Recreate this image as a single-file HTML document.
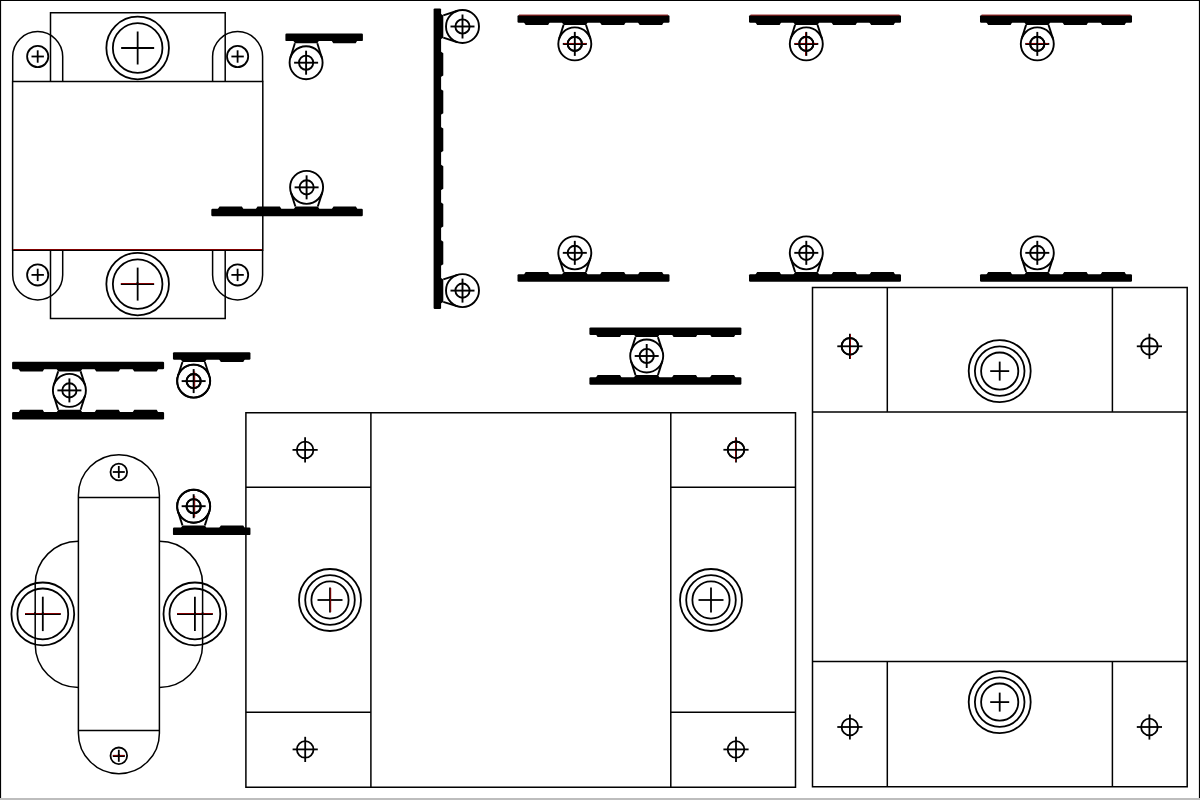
<!DOCTYPE html>
<html><head><meta charset="utf-8"><title>Drawing</title>
<style>
html,body{margin:0;padding:0;background:#fff;}
body{width:1200px;height:800px;overflow:hidden;font-family:"Liberation Sans",sans-serif;}
svg{display:block;}
</style></head><body>
<svg width="1200" height="800" viewBox="0 0 1200 800">
<rect width="1200" height="800" fill="#fff"/>
<line x1="0" y1="0.5" x2="1200" y2="0.5" stroke="#000" stroke-width="1.2"/>
<line x1="0.5" y1="0" x2="0.5" y2="798" stroke="#000" stroke-width="1.2"/>
<line x1="1199.5" y1="0" x2="1199.5" y2="798" stroke="#000" stroke-width="1.2"/>
<rect x="0" y="798" width="1200" height="2" fill="#bdbdbd"/>
<path d="M12.6,81.5 H262.8 V250.0 H12.6 Z" fill="none" stroke="#000" stroke-width="1.5"/>
<path d="M50.5,81.5 V12.7 H225.2 V81.5" fill="none" stroke="#000" stroke-width="1.5"/>
<path d="M50.5,250.0 V318.6 H225.2 V250.0" fill="none" stroke="#000" stroke-width="1.5"/>
<path d="M12.700000000000003,81.5 V56.6 A25,25 0 0 1 62.7,56.6 V81.5" fill="none" stroke="#000" stroke-width="1.5"/>
<path d="M12.700000000000003,250.0 V274.9 A25,25 0 0 0 62.7,274.9 V250.0" fill="none" stroke="#000" stroke-width="1.5"/>
<circle cx="37.7" cy="56.5" r="10.6" fill="none" stroke="#000" stroke-width="1.8"/>
<line x1="31.5" y1="56.5" x2="43.9" y2="56.5" stroke="#000" stroke-width="1.8"/>
<line x1="37.7" y1="50.3" x2="37.7" y2="62.7" stroke="#000" stroke-width="1.8"/>
<circle cx="37.7" cy="274.9" r="10.6" fill="none" stroke="#000" stroke-width="1.8"/>
<line x1="31.5" y1="274.9" x2="43.9" y2="274.9" stroke="#000" stroke-width="1.8"/>
<line x1="37.7" y1="268.7" x2="37.7" y2="281.1" stroke="#000" stroke-width="1.8"/>
<path d="M212.6,81.5 V56.6 A25,25 0 0 1 262.6,56.6 V81.5" fill="none" stroke="#000" stroke-width="1.5"/>
<path d="M212.6,250.0 V274.9 A25,25 0 0 0 262.6,274.9 V250.0" fill="none" stroke="#000" stroke-width="1.5"/>
<circle cx="237.6" cy="56.5" r="10.6" fill="none" stroke="#000" stroke-width="1.8"/>
<line x1="231.4" y1="56.5" x2="243.8" y2="56.5" stroke="#000" stroke-width="1.8"/>
<line x1="237.6" y1="50.3" x2="237.6" y2="62.7" stroke="#000" stroke-width="1.8"/>
<circle cx="237.6" cy="274.9" r="10.6" fill="none" stroke="#000" stroke-width="1.8"/>
<line x1="231.4" y1="274.9" x2="243.8" y2="274.9" stroke="#000" stroke-width="1.8"/>
<line x1="237.6" y1="268.7" x2="237.6" y2="281.1" stroke="#000" stroke-width="1.8"/>
<circle cx="137.65" cy="48" r="31.3" fill="none" stroke="#000" stroke-width="1.8"/>
<circle cx="137.65" cy="48" r="24.8" fill="none" stroke="#000" stroke-width="1.8"/>
<line x1="121.15" y1="48" x2="154.15" y2="48" stroke="#000" stroke-width="1.8"/>
<line x1="137.65" y1="31.5" x2="137.65" y2="64.5" stroke="#000" stroke-width="1.8"/>
<circle cx="137.65" cy="284.1" r="31.3" fill="none" stroke="#000" stroke-width="1.8"/>
<circle cx="137.65" cy="284.1" r="24.8" fill="none" stroke="#000" stroke-width="1.8"/>
<line x1="121.15" y1="284.1" x2="154.15" y2="284.1" stroke="#000" stroke-width="1.8"/>
<line x1="137.65" y1="267.6" x2="137.65" y2="300.6" stroke="#000" stroke-width="1.8"/>
<g transform="matrix(1,0,0,1,285.4,41.1)"><rect x="0" y="-7.5" width="77.5" height="7.5" rx="1.2" fill="#000"/><path d="M7.9,-2 L7.9,-0.3 L9.6,2.2 L32,2.2 L33.5,-0.3 L33.5,-2 Z" fill="#000"/><path d="M46.2,-2 L46.2,-0.3 L47.9,2.2 L70.3,2.2 L71.8,-0.3 L71.8,-2 Z" fill="#000"/><line x1="9.5" y1="2.2" x2="4.96" y2="16.65" stroke="#000" stroke-width="1.9"/><line x1="31.9" y1="2.2" x2="36.44" y2="16.65" stroke="#000" stroke-width="1.9"/><circle cx="20.7" cy="21.6" r="16.5" fill="none" stroke="#000" stroke-width="1.9"/><circle cx="20.7" cy="21.6" r="7.1" fill="none" stroke="#000" stroke-width="1.9"/><line x1="8.7" y1="21.6" x2="32.7" y2="21.6" stroke="#000" stroke-width="1.9"/><line x1="20.7" y1="9.6" x2="20.7" y2="33.6" stroke="#000" stroke-width="1.9"/></g>
<g transform="matrix(1,0,0,-1,211.3,208.75)"><rect x="0" y="-7.5" width="151.5" height="7.5" rx="1.2" fill="#000"/><path d="M6.5,-2 L6.5,-0.3 L8.2,2.2 L30.6,2.2 L32.1,-0.3 L32.1,-2 Z" fill="#000"/><path d="M44.5,-2 L44.5,-0.3 L46.2,2.2 L68.6,2.2 L70.1,-0.3 L70.1,-2 Z" fill="#000"/><path d="M82.5,-2 L82.5,-0.3 L84.2,2.2 L106.6,2.2 L108.1,-0.3 L108.1,-2 Z" fill="#000"/><path d="M120.5,-2 L120.5,-0.3 L122.2,2.2 L144.6,2.2 L146.1,-0.3 L146.1,-2 Z" fill="#000"/><line x1="84.1" y1="2.2" x2="79.58" y2="16.39" stroke="#000" stroke-width="1.9"/><line x1="106.5" y1="2.2" x2="111.02" y2="16.39" stroke="#000" stroke-width="1.9"/><circle cx="95.3" cy="21.4" r="16.5" fill="none" stroke="#000" stroke-width="1.9"/><circle cx="95.3" cy="21.4" r="7.1" fill="none" stroke="#000" stroke-width="1.9"/><line x1="83.3" y1="21.4" x2="107.3" y2="21.4" stroke="#000" stroke-width="1.9"/><line x1="95.3" y1="9.4" x2="95.3" y2="33.4" stroke="#000" stroke-width="1.9"/></g>
<g transform="matrix(0,1,1,0,441.1,8.4)"><rect x="0" y="-7.5" width="300.5" height="7.5" rx="1.2" fill="#000"/><path d="M5.3,-2 L5.3,-0.3 L7,2.2 L29.4,2.2 L30.9,-0.3 L30.9,-2 Z" fill="#000"/><path d="M43.03,-2 L43.03,-0.3 L44.73,2.2 L67.13,2.2 L68.63,-0.3 L68.63,-2 Z" fill="#000"/><path d="M80.76,-2 L80.76,-0.3 L82.46,2.2 L104.86,2.2 L106.36,-0.3 L106.36,-2 Z" fill="#000"/><path d="M118.49,-2 L118.49,-0.3 L120.19,2.2 L142.59,2.2 L144.09,-0.3 L144.09,-2 Z" fill="#000"/><path d="M156.22,-2 L156.22,-0.3 L157.92,2.2 L180.32,2.2 L181.82,-0.3 L181.82,-2 Z" fill="#000"/><path d="M193.95,-2 L193.95,-0.3 L195.65,2.2 L218.05,2.2 L219.55,-0.3 L219.55,-2 Z" fill="#000"/><path d="M231.68,-2 L231.68,-0.3 L233.38,2.2 L255.78,2.2 L257.28,-0.3 L257.28,-2 Z" fill="#000"/><path d="M269.41,-2 L269.41,-0.3 L271.11,2.2 L293.51,2.2 L295.01,-0.3 L295.01,-2 Z" fill="#000"/><line x1="6.9" y1="2.2" x2="2.38" y2="16.39" stroke="#000" stroke-width="1.9"/><line x1="29.3" y1="2.2" x2="33.82" y2="16.39" stroke="#000" stroke-width="1.9"/><circle cx="18.1" cy="21.4" r="16.5" fill="none" stroke="#000" stroke-width="1.9"/><circle cx="18.1" cy="21.4" r="7.1" fill="none" stroke="#000" stroke-width="1.9"/><line x1="6.1" y1="21.4" x2="30.1" y2="21.4" stroke="#000" stroke-width="1.9"/><line x1="18.1" y1="9.4" x2="18.1" y2="33.4" stroke="#000" stroke-width="1.9"/><line x1="271.01" y1="2.2" x2="266.49" y2="16.39" stroke="#000" stroke-width="1.9"/><line x1="293.41" y1="2.2" x2="297.93" y2="16.39" stroke="#000" stroke-width="1.9"/><circle cx="282.21" cy="21.4" r="16.5" fill="none" stroke="#000" stroke-width="1.9"/><circle cx="282.21" cy="21.4" r="7.1" fill="none" stroke="#000" stroke-width="1.9"/><line x1="270.21" y1="21.4" x2="294.21" y2="21.4" stroke="#000" stroke-width="1.9"/><line x1="282.21" y1="9.4" x2="282.21" y2="33.4" stroke="#000" stroke-width="1.9"/></g>
<g transform="matrix(1,0,0,1,517.5,22.7)"><rect x="0" y="-7.5" width="152" height="7.5" rx="1.2" fill="#000"/><path d="M6.5,-2 L6.5,-0.3 L8.2,2.2 L30.6,2.2 L32.1,-0.3 L32.1,-2 Z" fill="#000"/><path d="M44.5,-2 L44.5,-0.3 L46.2,2.2 L68.6,2.2 L70.1,-0.3 L70.1,-2 Z" fill="#000"/><path d="M82.5,-2 L82.5,-0.3 L84.2,2.2 L106.6,2.2 L108.1,-0.3 L108.1,-2 Z" fill="#000"/><path d="M120.5,-2 L120.5,-0.3 L122.2,2.2 L144.6,2.2 L146.1,-0.3 L146.1,-2 Z" fill="#000"/><line x1="46.1" y1="2.2" x2="41.6" y2="16.13" stroke="#000" stroke-width="1.9"/><line x1="68.5" y1="2.2" x2="73" y2="16.13" stroke="#000" stroke-width="1.9"/><circle cx="57.3" cy="21.2" r="16.5" fill="none" stroke="#000" stroke-width="1.9"/><circle cx="57.3" cy="21.2" r="7.1" fill="none" stroke="#000" stroke-width="1.9"/><line x1="45.3" y1="21.2" x2="69.3" y2="21.2" stroke="#000" stroke-width="1.9"/><line x1="57.3" y1="9.2" x2="57.3" y2="33.2" stroke="#000" stroke-width="1.9"/></g>
<g transform="matrix(1,0,0,-1,517.5,274.25)"><rect x="0" y="-7.5" width="152" height="7.5" rx="1.2" fill="#000"/><path d="M6.5,-2 L6.5,-0.3 L8.2,2.2 L30.6,2.2 L32.1,-0.3 L32.1,-2 Z" fill="#000"/><path d="M44.5,-2 L44.5,-0.3 L46.2,2.2 L68.6,2.2 L70.1,-0.3 L70.1,-2 Z" fill="#000"/><path d="M82.5,-2 L82.5,-0.3 L84.2,2.2 L106.6,2.2 L108.1,-0.3 L108.1,-2 Z" fill="#000"/><path d="M120.5,-2 L120.5,-0.3 L122.2,2.2 L144.6,2.2 L146.1,-0.3 L146.1,-2 Z" fill="#000"/><line x1="46.1" y1="2.2" x2="41.58" y2="16.39" stroke="#000" stroke-width="1.9"/><line x1="68.5" y1="2.2" x2="73.02" y2="16.39" stroke="#000" stroke-width="1.9"/><circle cx="57.3" cy="21.4" r="16.5" fill="none" stroke="#000" stroke-width="1.9"/><circle cx="57.3" cy="21.4" r="7.1" fill="none" stroke="#000" stroke-width="1.9"/><line x1="45.3" y1="21.4" x2="69.3" y2="21.4" stroke="#000" stroke-width="1.9"/><line x1="57.3" y1="9.4" x2="57.3" y2="33.4" stroke="#000" stroke-width="1.9"/></g>
<g transform="matrix(1,0,0,1,749,22.7)"><rect x="0" y="-7.5" width="152" height="7.5" rx="1.2" fill="#000"/><path d="M6.5,-2 L6.5,-0.3 L8.2,2.2 L30.6,2.2 L32.1,-0.3 L32.1,-2 Z" fill="#000"/><path d="M44.5,-2 L44.5,-0.3 L46.2,2.2 L68.6,2.2 L70.1,-0.3 L70.1,-2 Z" fill="#000"/><path d="M82.5,-2 L82.5,-0.3 L84.2,2.2 L106.6,2.2 L108.1,-0.3 L108.1,-2 Z" fill="#000"/><path d="M120.5,-2 L120.5,-0.3 L122.2,2.2 L144.6,2.2 L146.1,-0.3 L146.1,-2 Z" fill="#000"/><line x1="46.1" y1="2.2" x2="41.6" y2="16.13" stroke="#000" stroke-width="1.9"/><line x1="68.5" y1="2.2" x2="73" y2="16.13" stroke="#000" stroke-width="1.9"/><circle cx="57.3" cy="21.2" r="16.5" fill="none" stroke="#000" stroke-width="1.9"/><circle cx="57.3" cy="21.2" r="7.1" fill="none" stroke="#000" stroke-width="1.9"/><line x1="45.3" y1="21.2" x2="69.3" y2="21.2" stroke="#000" stroke-width="1.9"/><line x1="57.3" y1="9.2" x2="57.3" y2="33.2" stroke="#000" stroke-width="1.9"/></g>
<g transform="matrix(1,0,0,-1,749,274.25)"><rect x="0" y="-7.5" width="152" height="7.5" rx="1.2" fill="#000"/><path d="M6.5,-2 L6.5,-0.3 L8.2,2.2 L30.6,2.2 L32.1,-0.3 L32.1,-2 Z" fill="#000"/><path d="M44.5,-2 L44.5,-0.3 L46.2,2.2 L68.6,2.2 L70.1,-0.3 L70.1,-2 Z" fill="#000"/><path d="M82.5,-2 L82.5,-0.3 L84.2,2.2 L106.6,2.2 L108.1,-0.3 L108.1,-2 Z" fill="#000"/><path d="M120.5,-2 L120.5,-0.3 L122.2,2.2 L144.6,2.2 L146.1,-0.3 L146.1,-2 Z" fill="#000"/><line x1="46.1" y1="2.2" x2="41.58" y2="16.39" stroke="#000" stroke-width="1.9"/><line x1="68.5" y1="2.2" x2="73.02" y2="16.39" stroke="#000" stroke-width="1.9"/><circle cx="57.3" cy="21.4" r="16.5" fill="none" stroke="#000" stroke-width="1.9"/><circle cx="57.3" cy="21.4" r="7.1" fill="none" stroke="#000" stroke-width="1.9"/><line x1="45.3" y1="21.4" x2="69.3" y2="21.4" stroke="#000" stroke-width="1.9"/><line x1="57.3" y1="9.4" x2="57.3" y2="33.4" stroke="#000" stroke-width="1.9"/></g>
<g transform="matrix(1,0,0,1,980,22.7)"><rect x="0" y="-7.5" width="152" height="7.5" rx="1.2" fill="#000"/><path d="M6.5,-2 L6.5,-0.3 L8.2,2.2 L30.6,2.2 L32.1,-0.3 L32.1,-2 Z" fill="#000"/><path d="M44.5,-2 L44.5,-0.3 L46.2,2.2 L68.6,2.2 L70.1,-0.3 L70.1,-2 Z" fill="#000"/><path d="M82.5,-2 L82.5,-0.3 L84.2,2.2 L106.6,2.2 L108.1,-0.3 L108.1,-2 Z" fill="#000"/><path d="M120.5,-2 L120.5,-0.3 L122.2,2.2 L144.6,2.2 L146.1,-0.3 L146.1,-2 Z" fill="#000"/><line x1="46.1" y1="2.2" x2="41.6" y2="16.13" stroke="#000" stroke-width="1.9"/><line x1="68.5" y1="2.2" x2="73" y2="16.13" stroke="#000" stroke-width="1.9"/><circle cx="57.3" cy="21.2" r="16.5" fill="none" stroke="#000" stroke-width="1.9"/><circle cx="57.3" cy="21.2" r="7.1" fill="none" stroke="#000" stroke-width="1.9"/><line x1="45.3" y1="21.2" x2="69.3" y2="21.2" stroke="#000" stroke-width="1.9"/><line x1="57.3" y1="9.2" x2="57.3" y2="33.2" stroke="#000" stroke-width="1.9"/></g>
<g transform="matrix(1,0,0,-1,980,274.25)"><rect x="0" y="-7.5" width="152" height="7.5" rx="1.2" fill="#000"/><path d="M6.5,-2 L6.5,-0.3 L8.2,2.2 L30.6,2.2 L32.1,-0.3 L32.1,-2 Z" fill="#000"/><path d="M44.5,-2 L44.5,-0.3 L46.2,2.2 L68.6,2.2 L70.1,-0.3 L70.1,-2 Z" fill="#000"/><path d="M82.5,-2 L82.5,-0.3 L84.2,2.2 L106.6,2.2 L108.1,-0.3 L108.1,-2 Z" fill="#000"/><path d="M120.5,-2 L120.5,-0.3 L122.2,2.2 L144.6,2.2 L146.1,-0.3 L146.1,-2 Z" fill="#000"/><line x1="46.1" y1="2.2" x2="41.58" y2="16.39" stroke="#000" stroke-width="1.9"/><line x1="68.5" y1="2.2" x2="73.02" y2="16.39" stroke="#000" stroke-width="1.9"/><circle cx="57.3" cy="21.4" r="16.5" fill="none" stroke="#000" stroke-width="1.9"/><circle cx="57.3" cy="21.4" r="7.1" fill="none" stroke="#000" stroke-width="1.9"/><line x1="45.3" y1="21.4" x2="69.3" y2="21.4" stroke="#000" stroke-width="1.9"/><line x1="57.3" y1="9.4" x2="57.3" y2="33.4" stroke="#000" stroke-width="1.9"/></g>
<g transform="matrix(1,0,0,1,589.4,334.9)"><rect x="0" y="-7.5" width="152" height="7.5" rx="1.2" fill="#000"/><path d="M6.5,-2 L6.5,-0.3 L8.2,2.2 L30.6,2.2 L32.1,-0.3 L32.1,-2 Z" fill="#000"/><path d="M44.5,-2 L44.5,-0.3 L46.2,2.2 L68.6,2.2 L70.1,-0.3 L70.1,-2 Z" fill="#000"/><path d="M82.5,-2 L82.5,-0.3 L84.2,2.2 L106.6,2.2 L108.1,-0.3 L108.1,-2 Z" fill="#000"/><path d="M120.5,-2 L120.5,-0.3 L122.2,2.2 L144.6,2.2 L146.1,-0.3 L146.1,-2 Z" fill="#000"/><line x1="46.1" y1="2.2" x2="41.61" y2="15.99" stroke="#000" stroke-width="1.9"/><line x1="68.5" y1="2.2" x2="72.99" y2="15.99" stroke="#000" stroke-width="1.9"/><circle cx="57.3" cy="21.1" r="16.5" fill="none" stroke="#000" stroke-width="1.9"/><circle cx="57.3" cy="21.1" r="7.1" fill="none" stroke="#000" stroke-width="1.9"/><line x1="45.3" y1="21.1" x2="69.3" y2="21.1" stroke="#000" stroke-width="1.9"/><line x1="57.3" y1="9.1" x2="57.3" y2="33.1" stroke="#000" stroke-width="1.9"/></g>
<g transform="matrix(1,0,0,-1,589.4,377.3)"><rect x="0" y="-7.5" width="152" height="7.5" rx="1.2" fill="#000"/><path d="M6.5,-2 L6.5,-0.3 L8.2,2.2 L30.6,2.2 L32.1,-0.3 L32.1,-2 Z" fill="#000"/><path d="M44.5,-2 L44.5,-0.3 L46.2,2.2 L68.6,2.2 L70.1,-0.3 L70.1,-2 Z" fill="#000"/><path d="M82.5,-2 L82.5,-0.3 L84.2,2.2 L106.6,2.2 L108.1,-0.3 L108.1,-2 Z" fill="#000"/><path d="M120.5,-2 L120.5,-0.3 L122.2,2.2 L144.6,2.2 L146.1,-0.3 L146.1,-2 Z" fill="#000"/><line x1="46.1" y1="2.2" x2="41.59" y2="16.26" stroke="#000" stroke-width="1.9"/><line x1="68.5" y1="2.2" x2="73.01" y2="16.26" stroke="#000" stroke-width="1.9"/></g>
<g transform="matrix(1,0,0,1,12.1,369.2)"><rect x="0" y="-7.5" width="152" height="7.5" rx="1.2" fill="#000"/><path d="M6.5,-2 L6.5,-0.3 L8.2,2.2 L30.6,2.2 L32.1,-0.3 L32.1,-2 Z" fill="#000"/><path d="M44.5,-2 L44.5,-0.3 L46.2,2.2 L68.6,2.2 L70.1,-0.3 L70.1,-2 Z" fill="#000"/><path d="M82.5,-2 L82.5,-0.3 L84.2,2.2 L106.6,2.2 L108.1,-0.3 L108.1,-2 Z" fill="#000"/><path d="M120.5,-2 L120.5,-0.3 L122.2,2.2 L144.6,2.2 L146.1,-0.3 L146.1,-2 Z" fill="#000"/><line x1="46.1" y1="2.2" x2="41.6" y2="16.13" stroke="#000" stroke-width="1.9"/><line x1="68.5" y1="2.2" x2="73" y2="16.13" stroke="#000" stroke-width="1.9"/><circle cx="57.3" cy="21.2" r="16.5" fill="none" stroke="#000" stroke-width="1.9"/><circle cx="57.3" cy="21.2" r="7.1" fill="none" stroke="#000" stroke-width="1.9"/><line x1="45.3" y1="21.2" x2="69.3" y2="21.2" stroke="#000" stroke-width="1.9"/><line x1="57.3" y1="9.2" x2="57.3" y2="33.2" stroke="#000" stroke-width="1.9"/></g>
<g transform="matrix(1,0,0,-1,12.1,411.9)"><rect x="0" y="-7.5" width="152" height="7.5" rx="1.2" fill="#000"/><path d="M6.5,-2 L6.5,-0.3 L8.2,2.2 L30.6,2.2 L32.1,-0.3 L32.1,-2 Z" fill="#000"/><path d="M44.5,-2 L44.5,-0.3 L46.2,2.2 L68.6,2.2 L70.1,-0.3 L70.1,-2 Z" fill="#000"/><path d="M82.5,-2 L82.5,-0.3 L84.2,2.2 L106.6,2.2 L108.1,-0.3 L108.1,-2 Z" fill="#000"/><path d="M120.5,-2 L120.5,-0.3 L122.2,2.2 L144.6,2.2 L146.1,-0.3 L146.1,-2 Z" fill="#000"/><line x1="46.1" y1="2.2" x2="41.57" y2="16.52" stroke="#000" stroke-width="1.9"/><line x1="68.5" y1="2.2" x2="73.03" y2="16.52" stroke="#000" stroke-width="1.9"/></g>
<g transform="matrix(1,0,0,1,172.95,359.8)"><rect x="0" y="-7.5" width="77.5" height="7.5" rx="1.2" fill="#000"/><path d="M7.9,-2 L7.9,-0.3 L9.6,2.2 L32,2.2 L33.5,-0.3 L33.5,-2 Z" fill="#000"/><path d="M46.2,-2 L46.2,-0.3 L47.9,2.2 L70.3,2.2 L71.8,-0.3 L71.8,-2 Z" fill="#000"/><line x1="9.5" y1="2.2" x2="4.99" y2="16.26" stroke="#000" stroke-width="1.9"/><line x1="31.9" y1="2.2" x2="36.41" y2="16.26" stroke="#000" stroke-width="1.9"/><circle cx="20.7" cy="21.3" r="16.5" fill="none" stroke="#000" stroke-width="1.9"/><circle cx="20.7" cy="21.3" r="7.1" fill="none" stroke="#000" stroke-width="1.9"/><line x1="8.7" y1="21.3" x2="32.7" y2="21.3" stroke="#000" stroke-width="1.9"/><line x1="20.7" y1="9.3" x2="20.7" y2="33.3" stroke="#000" stroke-width="1.9"/></g>
<g transform="matrix(1,0,0,-1,172.95,527.6)"><rect x="0" y="-7.5" width="77.5" height="7.5" rx="1.2" fill="#000"/><path d="M7.9,-2 L7.9,-0.3 L9.6,2.2 L32,2.2 L33.5,-0.3 L33.5,-2 Z" fill="#000"/><path d="M46.2,-2 L46.2,-0.3 L47.9,2.2 L70.3,2.2 L71.8,-0.3 L71.8,-2 Z" fill="#000"/><line x1="9.5" y1="2.2" x2="4.98" y2="16.39" stroke="#000" stroke-width="1.9"/><line x1="31.9" y1="2.2" x2="36.42" y2="16.39" stroke="#000" stroke-width="1.9"/><circle cx="20.7" cy="21.4" r="16.5" fill="none" stroke="#000" stroke-width="1.9"/><circle cx="20.7" cy="21.4" r="7.1" fill="none" stroke="#000" stroke-width="1.9"/><line x1="8.7" y1="21.4" x2="32.7" y2="21.4" stroke="#000" stroke-width="1.9"/><line x1="20.7" y1="9.4" x2="20.7" y2="33.4" stroke="#000" stroke-width="1.9"/></g>
<path d="M78.4,541.2 A43.2,43.2 0 0 0 35.2,584.4 V644.2 A43.2,43.2 0 0 0 78.4,687.4" fill="none" stroke="#000" stroke-width="1.5"/>
<path d="M159.4,541.2 A43.2,43.2 0 0 1 202.6,584.4 V644.2 A43.2,43.2 0 0 1 159.4,687.4" fill="none" stroke="#000" stroke-width="1.5"/>
<circle cx="42.8" cy="613.9" r="31.4" fill="none" stroke="#000" stroke-width="1.8"/>
<circle cx="42.8" cy="613.9" r="25.4" fill="none" stroke="#000" stroke-width="1.8"/>
<line x1="25" y1="613.9" x2="60.6" y2="613.9" stroke="#000" stroke-width="1.8"/>
<line x1="42.8" y1="596.7" x2="42.8" y2="631.1" stroke="#000" stroke-width="1.8"/>
<circle cx="194.9" cy="613.9" r="31.4" fill="none" stroke="#000" stroke-width="1.8"/>
<circle cx="194.9" cy="613.9" r="25.4" fill="none" stroke="#000" stroke-width="1.8"/>
<line x1="177.1" y1="613.9" x2="212.7" y2="613.9" stroke="#000" stroke-width="1.8"/>
<line x1="194.9" y1="596.7" x2="194.9" y2="631.1" stroke="#000" stroke-width="1.8"/>
<path d="M78.4,495.2 A40.5,40.5 0 0 1 159.4,495.2 V733.2 A40.5,40.5 0 0 1 78.4,733.2 Z" fill="none" stroke="#000" stroke-width="1.5"/>
<line x1="78.4" y1="497.5" x2="159.4" y2="497.5" stroke="#000" stroke-width="1.5"/>
<line x1="78.4" y1="730.4" x2="159.4" y2="730.4" stroke="#000" stroke-width="1.5"/>
<circle cx="118.8" cy="472" r="8.3" fill="none" stroke="#000" stroke-width="1.8"/>
<line x1="112.8" y1="472" x2="124.8" y2="472" stroke="#000" stroke-width="1.8"/>
<line x1="118.8" y1="466" x2="118.8" y2="478" stroke="#000" stroke-width="1.8"/>
<circle cx="118.8" cy="755.8" r="8.3" fill="none" stroke="#000" stroke-width="1.8"/>
<line x1="112.8" y1="755.8" x2="124.8" y2="755.8" stroke="#000" stroke-width="1.8"/>
<line x1="118.8" y1="749.8" x2="118.8" y2="761.8" stroke="#000" stroke-width="1.8"/>
<path d="M245.9,412.65 H795.5 V787.25 H245.9 Z" fill="none" stroke="#000" stroke-width="1.5"/>
<line x1="370.9" y1="412.65" x2="370.9" y2="787.25" stroke="#000" stroke-width="1.5"/>
<line x1="670.8" y1="412.65" x2="670.8" y2="787.25" stroke="#000" stroke-width="1.5"/>
<line x1="245.9" y1="487.35" x2="370.9" y2="487.35" stroke="#000" stroke-width="1.5"/>
<line x1="670.8" y1="487.35" x2="795.5" y2="487.35" stroke="#000" stroke-width="1.5"/>
<line x1="245.9" y1="712.3" x2="370.9" y2="712.3" stroke="#000" stroke-width="1.5"/>
<line x1="670.8" y1="712.3" x2="795.5" y2="712.3" stroke="#000" stroke-width="1.5"/>
<circle cx="305.1" cy="449.9" r="8.3" fill="none" stroke="#000" stroke-width="1.8"/>
<line x1="292.5" y1="449.9" x2="317.7" y2="449.9" stroke="#000" stroke-width="1.8"/>
<line x1="305.1" y1="437.3" x2="305.1" y2="462.5" stroke="#000" stroke-width="1.8"/>
<circle cx="305.2" cy="749.4" r="8.3" fill="none" stroke="#000" stroke-width="1.8"/>
<line x1="292.6" y1="749.4" x2="317.8" y2="749.4" stroke="#000" stroke-width="1.8"/>
<line x1="305.2" y1="736.8" x2="305.2" y2="762" stroke="#000" stroke-width="1.8"/>
<circle cx="736" cy="449.8" r="8.3" fill="none" stroke="#000" stroke-width="1.8"/>
<line x1="723.4" y1="449.8" x2="748.6" y2="449.8" stroke="#000" stroke-width="1.8"/>
<line x1="736" y1="437.2" x2="736" y2="462.4" stroke="#000" stroke-width="1.8"/>
<circle cx="736" cy="749.4" r="8.3" fill="none" stroke="#000" stroke-width="1.8"/>
<line x1="723.4" y1="749.4" x2="748.6" y2="749.4" stroke="#000" stroke-width="1.8"/>
<line x1="736" y1="736.8" x2="736" y2="762" stroke="#000" stroke-width="1.8"/>
<circle cx="330" cy="600" r="31" fill="none" stroke="#000" stroke-width="1.8"/>
<circle cx="330" cy="600" r="24.8" fill="none" stroke="#000" stroke-width="1.8"/>
<circle cx="330" cy="600" r="18.6" fill="none" stroke="#000" stroke-width="1.8"/>
<line x1="317.5" y1="600" x2="342.5" y2="600" stroke="#000" stroke-width="1.8"/>
<line x1="330" y1="587.5" x2="330" y2="612.5" stroke="#000" stroke-width="1.8"/>
<circle cx="711" cy="600" r="31" fill="none" stroke="#000" stroke-width="1.8"/>
<circle cx="711" cy="600" r="24.8" fill="none" stroke="#000" stroke-width="1.8"/>
<circle cx="711" cy="600" r="18.6" fill="none" stroke="#000" stroke-width="1.8"/>
<line x1="698.5" y1="600" x2="723.5" y2="600" stroke="#000" stroke-width="1.8"/>
<line x1="711" y1="587.5" x2="711" y2="612.5" stroke="#000" stroke-width="1.8"/>
<path d="M812.5,287.4 H1187.2 V786.7 H812.5 Z" fill="none" stroke="#000" stroke-width="1.5"/>
<line x1="887.3" y1="287.4" x2="887.3" y2="411.9" stroke="#000" stroke-width="1.5"/>
<line x1="1112.4" y1="287.4" x2="1112.4" y2="411.9" stroke="#000" stroke-width="1.5"/>
<line x1="812.5" y1="411.9" x2="1187.2" y2="411.9" stroke="#000" stroke-width="1.5"/>
<line x1="812.5" y1="661.55" x2="1187.2" y2="661.55" stroke="#000" stroke-width="1.5"/>
<line x1="887.3" y1="661.55" x2="887.3" y2="786.7" stroke="#000" stroke-width="1.5"/>
<line x1="1112.4" y1="661.55" x2="1112.4" y2="786.7" stroke="#000" stroke-width="1.5"/>
<circle cx="849.9" cy="346.3" r="8.3" fill="none" stroke="#000" stroke-width="1.8"/>
<line x1="837.3" y1="346.3" x2="862.5" y2="346.3" stroke="#000" stroke-width="1.8"/>
<line x1="849.9" y1="333.7" x2="849.9" y2="358.9" stroke="#000" stroke-width="1.8"/>
<circle cx="1149.4" cy="346.3" r="8.3" fill="none" stroke="#000" stroke-width="1.8"/>
<line x1="1136.8" y1="346.3" x2="1162" y2="346.3" stroke="#000" stroke-width="1.8"/>
<line x1="1149.4" y1="333.7" x2="1149.4" y2="358.9" stroke="#000" stroke-width="1.8"/>
<circle cx="849.9" cy="727" r="8.3" fill="none" stroke="#000" stroke-width="1.8"/>
<line x1="837.3" y1="727" x2="862.5" y2="727" stroke="#000" stroke-width="1.8"/>
<line x1="849.9" y1="714.4" x2="849.9" y2="739.6" stroke="#000" stroke-width="1.8"/>
<circle cx="1149.4" cy="727" r="8.3" fill="none" stroke="#000" stroke-width="1.8"/>
<line x1="1136.8" y1="727" x2="1162" y2="727" stroke="#000" stroke-width="1.8"/>
<line x1="1149.4" y1="714.4" x2="1149.4" y2="739.6" stroke="#000" stroke-width="1.8"/>
<circle cx="999.7" cy="371.1" r="31" fill="none" stroke="#000" stroke-width="1.8"/>
<circle cx="999.7" cy="371.1" r="24.8" fill="none" stroke="#000" stroke-width="1.8"/>
<circle cx="999.7" cy="371.1" r="18.6" fill="none" stroke="#000" stroke-width="1.8"/>
<line x1="990.2" y1="371.1" x2="1009.2" y2="371.1" stroke="#000" stroke-width="1.8"/>
<line x1="999.7" y1="361.6" x2="999.7" y2="380.6" stroke="#000" stroke-width="1.8"/>
<circle cx="999.7" cy="702.1" r="31" fill="none" stroke="#000" stroke-width="1.8"/>
<circle cx="999.7" cy="702.1" r="24.8" fill="none" stroke="#000" stroke-width="1.8"/>
<circle cx="999.7" cy="702.1" r="18.6" fill="none" stroke="#000" stroke-width="1.8"/>
<line x1="990.2" y1="702.1" x2="1009.2" y2="702.1" stroke="#000" stroke-width="1.8"/>
<line x1="999.7" y1="692.6" x2="999.7" y2="711.6" stroke="#000" stroke-width="1.8"/>
<rect x="13.4" y="249" width="248.6" height="1" fill="#800000"/>
<rect x="12.6" y="250" width="250.2" height="1" fill="#000"/>
<rect x="120.8" y="283" width="33.1" height="1" fill="#800000"/>
<rect x="120.8" y="284" width="33.1" height="1" fill="#000"/>
<rect x="136.6" y="282" width="1.8" height="3" fill="#000"/>
<rect x="25" y="613" width="35.6" height="1" fill="#800000"/>
<rect x="25" y="614" width="35.6" height="1" fill="#000"/>
<rect x="41.9" y="612" width="1.8" height="3" fill="#000"/>
<rect x="177.1" y="613" width="35.6" height="1" fill="#800000"/>
<rect x="177.1" y="614" width="35.6" height="1" fill="#000"/>
<rect x="194" y="612" width="1.8" height="3" fill="#000"/>
<rect x="34.3" y="612" width="1.6" height="3" fill="#000"/>
<rect x="201.8" y="612" width="1.6" height="3" fill="#000"/>
<rect x="112.9" y="755" width="11.7" height="1" fill="#800000"/>
<rect x="112.9" y="756" width="11.7" height="1" fill="#000"/>
<rect x="117.9" y="754" width="1.8" height="3" fill="#000"/>
<rect x="519" y="14.6" width="149" height="1" fill="#800000"/>
<rect x="750.5" y="14.6" width="149" height="1" fill="#800000"/>
<rect x="981.5" y="14.6" width="149" height="1" fill="#800000"/>
<rect x="850" y="334.5" width="1" height="24" fill="#800000"/>
<rect x="735" y="438" width="1" height="23.5" fill="#800000"/>
<rect x="194.2" y="371.5" width="1" height="17" fill="#800000"/>
<rect x="194.2" y="496" width="1" height="21" fill="#800000"/>
<rect x="330.2" y="588" width="1" height="24" fill="#800000"/>
<rect x="563.7" y="43" width="22.6" height="1" fill="#800000"/>
<rect x="563.7" y="44" width="22.6" height="1" fill="#000"/>
<rect x="794.7" y="43" width="22.6" height="1" fill="#800000"/>
<rect x="794.7" y="44" width="22.6" height="1" fill="#000"/>
<rect x="1025.7" y="43" width="22.6" height="1" fill="#800000"/>
<rect x="1025.7" y="44" width="22.6" height="1" fill="#000"/>
<rect x="805" y="32.5" width="1" height="10.5" fill="#800000"/>
<rect x="805" y="45" width="1" height="10.5" fill="#800000"/>
<circle cx="574.8" cy="43.9" r="7.1" fill="none" stroke="#000" stroke-width="1.9"/>
<rect x="574" y="43" width="2" height="2" fill="#000"/>
<circle cx="806.3" cy="43.9" r="7.1" fill="none" stroke="#000" stroke-width="1.9"/>
<rect x="805" y="43" width="2" height="2" fill="#000"/>
<circle cx="1037.3" cy="43.9" r="7.1" fill="none" stroke="#000" stroke-width="1.9"/>
<rect x="1036" y="43" width="2" height="2" fill="#000"/>
<circle cx="849.9" cy="346.3" r="8.3" fill="none" stroke="#000" stroke-width="1.8"/>
<rect x="849" y="345.4" width="2" height="1.8" fill="#000"/>
<circle cx="736" cy="449.8" r="8.3" fill="none" stroke="#000" stroke-width="1.8"/>
<rect x="735" y="448.9" width="2" height="1.8" fill="#000"/>
<circle cx="193.65" cy="381.1" r="7.1" fill="none" stroke="#000" stroke-width="1.9"/>
<circle cx="193.65" cy="381.1" r="16.5" fill="none" stroke="#000" stroke-width="1.9"/>
<rect x="192.7" y="380.15" width="1.9" height="1.9" fill="#000"/>
<circle cx="193.65" cy="506.2" r="7.1" fill="none" stroke="#000" stroke-width="1.9"/>
<circle cx="193.65" cy="506.2" r="16.5" fill="none" stroke="#000" stroke-width="1.9"/>
<rect x="192.7" y="505.25" width="1.9" height="1.9" fill="#000"/>
</svg>
</body></html>
